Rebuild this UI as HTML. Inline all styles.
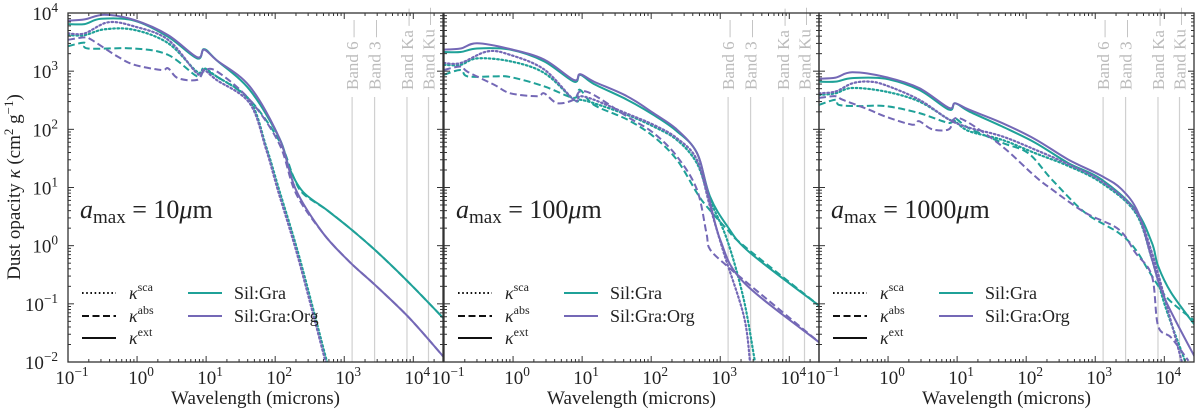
<!DOCTYPE html>
<html><head><meta charset="utf-8">
<style>
html,body{margin:0;padding:0;background:#fff;}
svg, svg *{font-family:"Liberation Serif","Times New Roman","DejaVu Serif",serif;}
svg{display:block;}
</style></head>
<body>
<svg id="chart" width="1200" height="410" viewBox="0 0 1200 410" font-family="Liberation Serif, serif"></svg>
<script>
// Data (log10 wavelength in microns, log10 kappa in cm^2/g)
const panelTitles = ["10", "100", "1000"];
const xTickLabels = ["-1","0","1","2","3","4"];
const yTickLabels = ["-2","-1","0","1","2","3","4"];
const bandNames = ["Band 6","Band 3","Band Ka","Band Ku"];
const bandWl = [1300, 2750, 8100, 16600];
const materials = ["Sil:Gra","Sil:Gra:Org"];
const kinds = ["sca","abs","ext"];

// Panel 1: a_max = 10 um
const p1_gra_ext_x = [-1,-0.76,-0.52,-0.04,0.45,0.87,0.97,1.15,1.63,2.06,2.2,2.4,2.74,3.07,3.46,3.94,4.43];
const p1_gra_ext_y = [3.81,3.81,3.9,3.87,3.59,3.22,3.38,3.19,2.68,1.85,1.35,0.93,0.62,0.31,-0.09,-0.64,-1.24];
const p1_org_ext_x = [-1,-0.76,-0.47,-0.04,0.45,0.87,0.97,1.15,1.63,2.06,2.3,2.69,3.07,3.46,3.94,4.43];
const p1_org_ext_y = [3.87,3.89,3.97,3.88,3.62,3.24,3.37,3.19,2.74,1.85,0.96,0.22,-0.27,-0.69,-1.24,-1.9];
const p1_gra_sca_x = [-1,-0.76,-0.47,-0.04,0.45,0.87,0.97,1.15,1.63,1.87,2.06,2.35,2.75];
const p1_gra_sca_y = [3.62,3.62,3.72,3.71,3.48,2.99,3.05,2.91,2.5,1.7,0.95,-0.2,-2.0];
const p1_org_sca_x = [-1,-0.76,-0.42,-0.04,0.45,0.87,0.97,1.15,1.63,1.87,2.04,2.33,2.73];
const p1_org_sca_y = [3.65,3.65,3.84,3.77,3.54,2.96,3.02,2.85,2.45,1.65,0.95,-0.2,-2.0];
const p1_gra_abs_x = [-1,-0.76,-0.71,-0.04,0.45,0.87,0.97,1.15,1.63,2.06,2.26,2.4,2.74,3.07,3.46,3.94,4.43];
const p1_gra_abs_y = [3.43,3.49,3.39,3.39,3.28,2.91,3.0,2.91,2.51,1.8,1.2,0.9,0.62,0.31,-0.09,-0.64,-1.24];
const p1_org_abs_x = [-1,-0.76,-0.66,-0.28,-0.04,0.35,0.45,0.59,0.87,0.97,1.15,1.63,2.06,2.3,2.69,3.07,3.46,3.94,4.43];
const p1_org_abs_y = [3.54,3.58,3.54,3.25,3.11,3.02,3.05,2.88,2.85,3.0,3.0,2.51,1.75,0.9,0.22,-0.27,-0.69,-1.24,-1.9];

// Panel 2: a_max = 100 um
const p2_gra_ext_x = [-1,-0.76,-0.52,-0.04,0.45,0.88,0.97,1.17,1.65,2.03,2.37,2.66,2.85,3.1,3.43,4.43];
const p2_gra_ext_y = [3.33,3.33,3.39,3.37,3.17,2.82,2.94,2.78,2.51,2.25,1.97,1.6,0.85,0.34,-0.12,-1.03];
const p2_org_ext_x = [-1,-0.76,-0.52,-0.04,0.45,0.88,0.97,1.17,1.65,2.03,2.37,2.66,2.8,3.0,3.34,4.43];
const p2_org_ext_y = [3.37,3.39,3.48,3.38,3.2,2.85,2.95,2.82,2.57,2.28,2.0,1.6,1.02,0.1,-0.63,-1.66];
const p2_gra_sca_x = [-1,-0.76,-0.52,-0.04,0.45,0.88,0.97,1.17,1.65,2.03,2.37,2.66,2.85,3.1,3.34,3.5];
const p2_gra_sca_y = [3.11,3.11,3.22,3.17,2.97,2.51,2.51,2.45,2.25,2.05,1.82,1.42,0.79,0.1,-0.92,-1.98];
const p2_org_sca_x = [-1,-0.76,-0.37,-0.04,0.45,0.88,0.97,1.17,1.65,2.03,2.37,2.66,2.85,3.05,3.34,3.43];
const p2_org_sca_y = [3.14,3.14,3.34,3.28,3.03,2.51,2.57,2.51,2.27,2.08,1.85,1.48,0.68,-0.12,-1.2,-1.98];
const p2_gra_abs_x = [-1,-0.76,-0.66,-0.28,-0.04,0.45,0.88,0.97,1.17,1.65,2.03,2.37,2.66,2.8,3.1,3.34,4.43];
const p2_gra_abs_y = [2.94,3.02,2.91,2.91,2.9,2.74,2.54,2.68,2.42,2.17,1.88,1.48,0.91,0.68,0.28,0.0,-1.03];
const p2_org_abs_x = [-1,-0.76,-0.66,-0.28,-0.04,0.35,0.45,0.64,0.88,0.97,1.17,1.65,2.03,2.37,2.66,2.8,2.85,3.1,3.38,4.43];
const p2_org_abs_y = [3.02,3.08,2.99,2.77,2.62,2.57,2.62,2.45,2.51,2.65,2.59,2.22,1.94,1.54,0.97,0.22,-0.06,-0.35,-0.63,-1.66];

// Panel 3: a_max = 1000 um
const p3_gra_ext_x = [-1,-0.76,-0.52,-0.04,0.45,0.88,0.97,1.17,1.65,2.13,2.61,3.09,3.58,3.82,3.91,4.1,4.47];
const p3_gra_ext_y = [2.82,2.82,2.88,2.87,2.68,2.34,2.45,2.31,2.05,1.77,1.42,1.14,0.62,0.05,-0.35,-0.81,-1.41];
const p3_org_ext_x = [-1,-0.76,-0.52,-0.04,0.45,0.88,0.97,1.17,1.65,2.13,2.61,3.09,3.38,3.62,3.82,4.01,4.47];
const p3_org_ext_y = [2.87,2.89,2.98,2.9,2.71,2.37,2.45,2.34,2.11,1.83,1.48,1.2,0.97,0.57,-0.23,-0.92,-1.98];
const p3_gra_sca_x = [-1,-0.76,-0.52,-0.04,0.45,0.88,0.97,1.17,1.65,2.13,2.61,3.09,3.58,3.82,4.01,4.3];
const p3_gra_sca_y = [2.59,2.62,2.71,2.65,2.48,2.17,2.14,1.97,1.82,1.59,1.37,1.08,0.57,-0.23,-1.03,-1.98];
const p3_org_sca_x = [-1,-0.76,-0.52,-0.28,-0.04,0.45,0.88,1.17,1.65,2.13,2.61,3.09,3.58,3.82,4.01,4.25];
const p3_org_sca_y = [2.62,2.65,2.79,2.82,2.76,2.51,2.17,2.03,1.88,1.65,1.4,1.11,0.6,-0.12,-0.92,-1.98];
const p3_gra_abs_x = [-1,-0.76,-0.71,-0.42,-0.04,0.45,0.88,0.97,1.17,1.65,2.03,2.37,2.85,3.34,3.58,3.82,4.06,4.47];
const p3_gra_abs_y = [2.42,2.51,2.42,2.4,2.4,2.28,2.11,2.19,2.02,1.77,1.59,1.14,0.57,0.22,-0.06,-0.52,-0.92,-1.32];
const p3_org_abs_x = [-1,-0.76,-0.66,-0.28,-0.04,0.35,0.45,0.64,0.88,0.97,1.17,1.65,2.13,2.37,2.85,3.34,3.58,3.82,3.91,4.1,4.35];
const p3_org_abs_y = [2.54,2.57,2.51,2.34,2.22,2.08,2.14,2.0,2.0,2.19,2.11,1.71,1.19,0.97,0.57,0.28,-0.12,-0.52,-1.38,-1.58,-1.98];

const panelData = [
 {gra:{ext:[p1_gra_ext_x,p1_gra_ext_y],sca:[p1_gra_sca_x,p1_gra_sca_y],abs:[p1_gra_abs_x,p1_gra_abs_y]},
  org:{ext:[p1_org_ext_x,p1_org_ext_y],sca:[p1_org_sca_x,p1_org_sca_y],abs:[p1_org_abs_x,p1_org_abs_y]}},
 {gra:{ext:[p2_gra_ext_x,p2_gra_ext_y],sca:[p2_gra_sca_x,p2_gra_sca_y],abs:[p2_gra_abs_x,p2_gra_abs_y]},
  org:{ext:[p2_org_ext_x,p2_org_ext_y],sca:[p2_org_sca_x,p2_org_sca_y],abs:[p2_org_abs_x,p2_org_abs_y]}},
 {gra:{ext:[p3_gra_ext_x,p3_gra_ext_y],sca:[p3_gra_sca_x,p3_gra_sca_y],abs:[p3_gra_abs_x,p3_gra_abs_y]},
  org:{ext:[p3_org_ext_x,p3_org_ext_y],sca:[p3_org_sca_x,p3_org_sca_y],abs:[p3_org_abs_x,p3_org_abs_y]}}
];

const NS = "http://www.w3.org/2000/svg";
const svg = document.getElementById("chart");
const panelLeft = [68, 444, 819];
const panelW = 375;
const plotTop = 13, plotBottom = 362;
const xMin = -1, xMax = 4.43, yMin = -2, yMax = 4;
const colors = {gra:"#1fa198", org:"#7468b6"};
const dashes = {sca:"1.6 2.6", abs:"7 3.5", ext:""};
const FONT = "Liberation Serif, Times New Roman, DejaVu Serif, serif";

function mk(tag, attrs, parent){
  const e = document.createElementNS(NS, tag);
  for (const k in attrs) e.setAttribute(k, attrs[k]);
  if (tag === "text") e.setAttribute("font-family", FONT);
  (parent||svg).appendChild(e);
  return e;
}
function xs(p, lx){ return panelLeft[p] + (lx - xMin)/(xMax - xMin)*panelW; }
function ys(ly){ return plotBottom - (ly - yMin)/(yMax - yMin)*(plotBottom - plotTop); }

function smoothPath(pts){
  let d = "M" + pts[0][0].toFixed(1) + "," + pts[0][1].toFixed(1);
  for (let i = 0; i < pts.length - 1; i++){
    const p0 = pts[Math.max(i-1,0)], p1 = pts[i], p2 = pts[i+1], p3 = pts[Math.min(i+2, pts.length-1)];
    const c1x = p1[0] + (p2[0]-p0[0])/6, c1y = p1[1] + (p2[1]-p0[1])/6;
    const c2x = p2[0] - (p3[0]-p1[0])/6, c2y = p2[1] - (p3[1]-p1[1])/6;
    d += " C" + c1x.toFixed(1) + "," + c1y.toFixed(1) + " " + c2x.toFixed(1) + "," + c2y.toFixed(1) + " " + p2[0].toFixed(1) + "," + p2[1].toFixed(1);
  }
  return d;
}

function supText(parent, x, y, base, sup, anchor, size){
  const t = mk("text", {x:x, y:y, "font-size":size, "text-anchor":anchor, fill:"#222"}, parent);
  t.appendChild(document.createTextNode(base));
  const s = mk("tspan", {dy:-8, "font-size":size*0.7}, t);
  s.textContent = sup;
  return t;
}

for (let p = 0; p < 3; p++){
  const g = mk("g", {});
  
  
  const L = panelLeft[p], R = L + panelW;
  const clipId = "clip" + p;
  const cp = mk("clipPath", {id:clipId}, g);
  mk("rect", {x:L, y:plotTop, width:panelW, height:plotBottom-plotTop}, cp);

  for (let b = 0; b < bandWl.length; b++){
    const bx = xs(p, Math.log10(bandWl[b]));
    const ln = mk("line", {x1:bx, x2:bx, y1:97, y2:plotBottom, stroke:"#d0d0d0", "stroke-width":1.2}, g);
    
    
    const bt = mk("text", {x:bx+6, y:90, transform:"rotate(-90 "+(bx+6)+" 90)", "font-size":17, fill:"#bbbbbb", "text-anchor":"start"}, g);
    bt.textContent = bandNames[b] + " —";
    
    
  }

  const sg = mk("g", {"clip-path":"url(#"+clipId+")"}, g);
  for (const m of ["gra","org"]){
    for (const k of kinds){
      const [lx, ly] = panelData[p][m][k];
      const pts = lx.map((v,i)=> [xs(p,v), ys(ly[i])]);
      const pl = mk("path", {d:smoothPath(pts), fill:"none", stroke:colors[m], "stroke-width":k==="sca"?2.2:2, "stroke-dasharray":dashes[k], "stroke-linejoin":"round", "stroke-linecap":k==="sca"?"round":"butt"}, sg);
      
      
    }
  }

  for (let d = -1; d <= 4; d++){
    for (let j = 1; j <= 9; j++){
      const lv = d + Math.log10(j);
      if (lv < xMin - 1e-6 || lv > xMax) continue;
      const x = xs(p, lv), len = j === 1 ? 6 : 3;
      mk("line", {x1:x, x2:x, y1:plotBottom, y2:plotBottom-len, stroke:"#333", "stroke-width":1}, g);
      mk("line", {x1:x, x2:x, y1:plotTop, y2:plotTop+len, stroke:"#333", "stroke-width":1}, g);
    }
  }
  for (let d = -2; d <= 3; d++){
    for (let j = 1; j <= 9; j++){
      const y = ys(d + Math.log10(j)), len = j === 1 ? 6 : 3;
      mk("line", {x1:L, x2:L+len, y1:y, y2:y, stroke:"#333", "stroke-width":1}, g);
      mk("line", {x1:R, x2:R-len, y1:y, y2:y, stroke:"#333", "stroke-width":1}, g);
    }
  }
  const frame = mk("rect", {x:L, y:plotTop, width:panelW, height:plotBottom-plotTop, fill:"none", stroke:"#333", "stroke-width":1.3}, g);
  
  

  for (const t of xTickLabels){
    const v = parseFloat(t);
    const tl = supText(g, xs(p, v) + 4, 384, "10", t === "-1" ? "−1" : t, "middle", 19);
    
    
  }
  const xt = mk("text", {x:L + panelW/2, y:404, "font-size":19, "text-anchor":"middle", fill:"#222"}, g);
  xt.textContent = "Wavelength (microns)";
  
  

  const an = mk("text", {x:L+12, y:218, "font-size":26, fill:"#222"}, g);
  const ai = mk("tspan", {"font-style":"italic"}, an); ai.textContent = "a";
  const asub = mk("tspan", {dy:5, "font-size":19}, an); asub.textContent = "max";
  const arest = mk("tspan", {dy:-5}, an); arest.textContent = " = " + panelTitles[p];
  const amu = mk("tspan", {"font-style":"italic"}, an); amu.textContent = "μ";
  const am = mk("tspan", {}, an); am.textContent = "m";
  
  

  const lg = mk("g", {}, g);
  
  
  const legY = [293, 316, 338];
  for (let i = 0; i < 3; i++){
    const k = kinds[i];
    const l = mk("line", {x1:L+14, x2:L+48, y1:legY[i], y2:legY[i], stroke:"#111", "stroke-width":2, "stroke-dasharray":dashes[k]}, lg);
    
    
    const tx = mk("text", {x:L+61, y:legY[i]+6, "font-size":18, fill:"#222"}, lg);
    const kk = mk("tspan", {"font-style":"italic"}, tx); kk.textContent = "κ";
    const ks = mk("tspan", {dy:-8, "font-size":12}, tx); ks.textContent = k;
  }
  for (let i = 0; i < 2; i++){
    const m = ["gra","org"][i];
    const l = mk("line", {x1:L+120, x2:L+154, y1:legY[i], y2:legY[i], stroke:colors[m], "stroke-width":2}, lg);
    
    
    const tx = mk("text", {x:L+166, y:legY[i]+6, "font-size":18, fill:"#222"}, lg);
    tx.textContent = materials[i];
  }
}

for (const t of yTickLabels){
  const v = parseFloat(t);
  const tl = supText(svg, 58, ys(v) + 7, "10", t.replace("-","−"), "end", 19);
  
  
}
const yt = mk("text", {x:20, y:187, transform:"rotate(-90 20 187)", "font-size":19, "text-anchor":"middle", fill:"#222"});
yt.appendChild(document.createTextNode("Dust opacity "));
const yk = mk("tspan", {"font-style":"italic"}, yt); yk.textContent = "κ";
const y2 = mk("tspan", {}, yt); y2.textContent = " (cm";
const y3 = mk("tspan", {dy:-7, "font-size":13}, yt); y3.textContent = "2";
const y4 = mk("tspan", {dy:7}, yt); y4.textContent = " g";
const y5 = mk("tspan", {dy:-7, "font-size":13}, yt); y5.textContent = "−1";
const y6 = mk("tspan", {dy:7}, yt); y6.textContent = ")";


</script>
</body></html>
